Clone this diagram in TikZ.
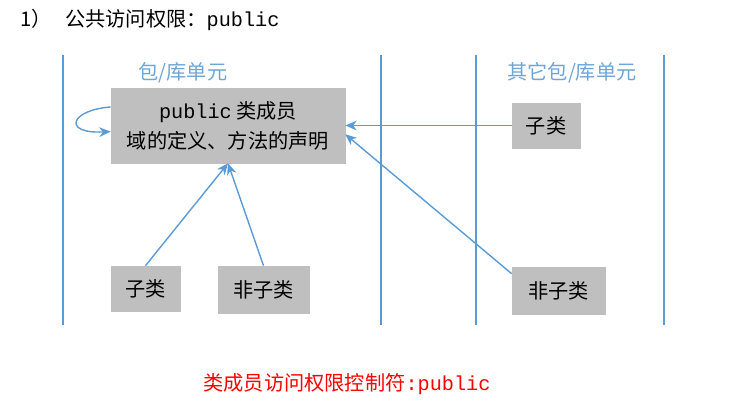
\documentclass[tikz,border=0pt]{standalone}
\usepackage{fontspec}
\setmainfont{Noto Sans CJK SC}
\newfontfamily\codefont{Liberation Mono}
\usetikzlibrary{arrows.meta, positioning}
\definecolor{linkblue}{RGB}{91,155,213}
\definecolor{labelblue}{RGB}{110,165,215}
\definecolor{boxgray}{RGB}{191,191,191}
\begin{document}
\begin{tikzpicture}[
    x=0.02cm, y=-0.02cm,
    font=\fontsize{11.5}{14}\selectfont,
    >={Stealth[length=6.5pt, width=5.5pt]},
    unit/.style={draw=boxgray, fill=boxgray, rectangle, align=center, inner sep=0pt},
    wall/.style={draw=linkblue, line width=1.1pt},
    arr/.style={->, draw=linkblue, line width=0.8pt},
    pkg/.style={text=labelblue}
]
\useasboundingbox (0,0) rectangle (741,415);

% title and caption
\node[anchor=west] (title) at (14,20) {1）\ \ \ 公共访问权限：{\codefont public}};
\node[text=red] (caption) at (347,384) {类成员访问权限控制符{\codefont :public}};

% package borders
\coordinate (w1a) at (63,55);   \coordinate (w1b) at (63,325);
\coordinate (w2a) at (381,55);  \coordinate (w2b) at (381,325);
\coordinate (w3a) at (476,55);  \coordinate (w3b) at (476,325);
\coordinate (w4a) at (664,55);  \coordinate (w4b) at (664,325);
\draw[wall] (w1a) -- (w1b);
\draw[wall] (w2a) -- (w2b);
\draw[wall] (w3a) -- (w3b);
\draw[wall] (w4a) -- (w4b);

\node[pkg] (ownpkg) at (183,73) {包/库单元};
\node[pkg] (otherpkg) at (572,73) {其它包/库单元};

% classes
\node[unit, minimum width=4.68cm, minimum height=1.5cm] (member) at (228,125.5) {{\codefont public} 类成员\\[3pt]域的定义、方法的声明};
\node[unit, minimum width=1.38cm, minimum height=0.9cm] (subin) at (145.5,288.5) {子类};
\node[unit, minimum width=1.82cm, minimum height=0.94cm] (nonsubin) at (263.5,289.5) {非子类};
\node[unit, minimum width=1.36cm, minimum height=0.9cm] (subout) at (546,125.5) {子类};
\node[unit, minimum width=1.86cm, minimum height=0.94cm] (nonsubout) at (558.5,290.5) {非子类};

% access arrows
\draw[arr] ([yshift=-11pt]member.north west) .. controls (70,110) and (62,134) .. ([yshift=-25pt]member.north west);
\draw[arr] (subout.west) -- (member.east);
\draw[arr] ([yshift=-4pt]nonsubout.north west) -- ([yshift=-5pt]member.east);
\draw[arr] (subin.north) -- (member.south);
\draw[arr] (nonsubin.north) -- (member.south);

\end{tikzpicture}
\end{document}
